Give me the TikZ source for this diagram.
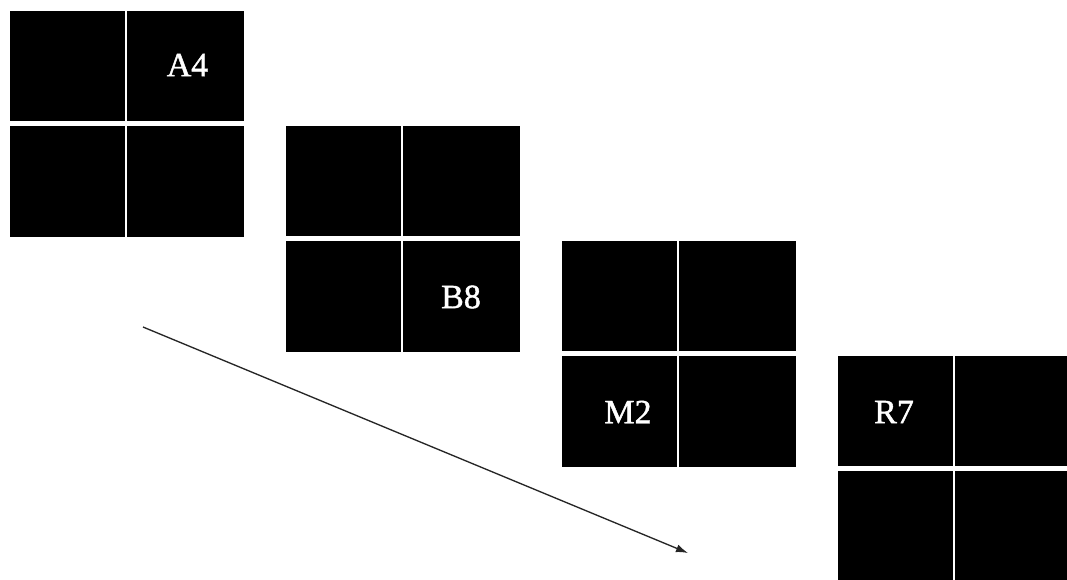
\documentclass[tikz,border=0pt]{standalone}
\usepackage{fontspec}
\setmainfont{Liberation Serif}
\newfontface\tagface{Liberation Serif}[FakeBold=1.3]
\usetikzlibrary{arrows.meta}
\begin{document}
\begin{tikzpicture}[x=0.75pt,y=-0.75pt,
  cell/.style={fill=black,draw=none,inner sep=0pt,outer sep=0pt,anchor=north west},
  narrowcol/.style={minimum width=86.6pt},
  widecol/.style={minimum width=87.75pt},
  toprow/.style={minimum height=82.5pt},
  botrow/.style={minimum height=83.25pt},
  tag/.style={text=white,font=\tagface\fontsize{25.5}{30}\selectfont,inner sep=0pt},
  flow/.style={draw=black!85,line width=1pt,-{Latex[length=9pt,width=6pt]}}]
\useasboundingbox (0,0) rectangle (1067,579);
\clip (0,0) rectangle (1067,579);
\fill[white] (0,0) rectangle (1067,579);
% four 2x2 blocks stepping down to the right
\foreach \i/\ox/\oy in {1/9.5/11, 2/285.5/125.7, 3/561.7/240.7, 4/837.7/355.7}{
  \node[cell,narrowcol,toprow] (g\i tl) at (\ox,\oy) {};
  \node[cell,widecol,toprow]   (g\i tr) at (\ox+117.5,\oy) {};
  \node[cell,narrowcol,botrow] (g\i bl) at (\ox,\oy+115) {};
  \node[cell,widecol,botrow]   (g\i br) at (\ox+117.5,\oy+115) {};
}
% cell labels
\node[tag] (la) at (187.5,65) {A4};
\node[tag] (lb) at (461,297) {B8};
\node[tag] (lm) at (628,412) {M2};
\node[tag] (lr) at (894,412) {R7};
% direction arrow
\coordinate (fs) at (143,327);
\coordinate (fe) at (688,553);
\draw[flow] (fs) -- (fe);
\end{tikzpicture}
\end{document}
